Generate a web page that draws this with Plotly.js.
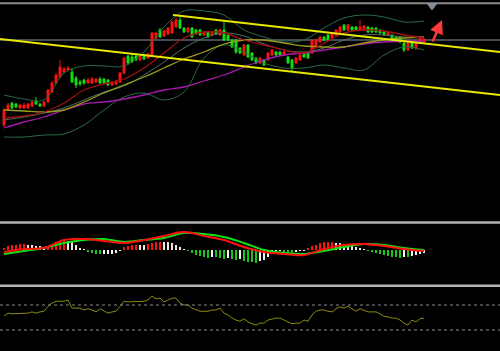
<!DOCTYPE html>
<html><head><meta charset="utf-8">
<script src="https://cdn.plot.ly/plotly-3.0.1.min.js"></script>
<style>html,body{margin:0;padding:0;background:#000;}#chart{width:500px;height:351px;}</style>
</head><body><div id="chart"></div>
<script>
// ---- candles (price units) ----
const open = [175,190,197,196,192,192,192,194,199,196,
194,198,208,217,223,228,230,228,222,218,
220,217,217,218,221,221,220,215,216,218,
227,244,243,244,240,245,242,245,262,270,
264,266,267,273,280,272,268,272,270,270,
265,268,265,270,265,270,265,260,260,252,
245,255,247,242,237,240,240,245,248,248,
245,243,240,237,240,247,247,247,253,258,
263,265,262,265,268,275,270,273,273,270,
270,273,272,272,270,268,265,265,263,263,
257,250,258,252,257,258];
const close = [190,195,192,193,195,195,196,198,196,194,
198,210,217,225,233,231,232,218,215,216,
217,220,221,221,217,217,215,218,219,227,
242,237,238,240,244,241,246,267,267,263,
269,272,278,280,272,268,272,263,266,265,
268,263,268,266,270,260,260,253,248,247,
255,243,240,237,242,235,247,250,245,245,
248,237,232,242,245,243,242,260,260,263,
260,260,267,270,273,270,275,270,270,273,
274,268,268,268,267,265,268,260,260,258,
250,258,252,257,262,261];
const high = [192,197,198,197,196,197,197,199,203,197,
199,211,219,227,240,233,234,232,224,220,
221,222,223,222,223,222,221,219,220,228,
243,245,246,245,245,246,247,268,268,272,
270,273,280,282,283,273,273,273,271,271,
269,269,269,271,271,278,266,261,261,253,
256,256,248,243,243,241,248,251,249,249,
249,244,241,243,246,248,248,261,261,264,
264,266,268,271,274,276,276,274,274,280,
275,274,273,273,271,269,269,266,264,264,
258,259,259,258,263,262];
const low = [173,189,191,192,191,191,191,193,195,193,
193,197,207,216,222,227,229,217,212,214,
215,216,216,217,216,216,214,214,215,217,
226,235,237,239,239,240,241,244,261,262,
263,265,266,272,271,267,267,262,265,264,
264,262,264,265,264,259,259,252,246,246,
244,242,239,236,236,234,239,244,244,244,
244,236,228,236,239,242,241,246,252,257,
259,259,261,264,267,269,269,269,269,269,
269,267,267,267,266,264,264,259,259,257,
248,249,251,250,256,257];
const barIdx = open.map((_, i) => i);

// ---- indicator lines sampled every 5 bars ----
const lineIdx = [0,5,10,15,20,25,30,35,40,45,50,55,60,65,70,75,80,85,90,95,100,105];
const maFast   = [182,184,188,197,210,216,221,232,247,262,268,267,260,255,250,247,257,267,270,269,265,262];
const maMid    = [190,189,188,190,198,207,215,223,232,241,248,256,260,260,257,254,253,253,257,260,262,263];
const maSlow   = [172,178,183,190,196,198,201,205,210,213,219,225,233,240,245,247,250,253,256,258,259,259];
const bbMiddle = [180,183,187,192,200,208,214,225,238,252,262,267,264,256,250,248,252,260,265,265,263,262];
const bbUpper  = [205,201,200,227,234,234,234,248,273,289,289,285,270,263,258,260,272,282,285,283,278,279];
const bbLower  = [163,163,165,166,175,190,203,207,200,208,242,255,248,237,232,232,235,232,230,245,253,250];

// trend channel (bar index, price)
const channelLowX = [-1,124], channelLowY = [261,205];
const channelUpX = [42.25,124], channelUpY = [285,248];
const lastPrice = 260;

// ---- MACD ----
const macdHist = [2,4,5,5.5,6,6.2,5.5,5,4.5,4,3,
4,6,8,9,10, 9.5,8,5,2,1, -2,-3,-3.5,-4.2, -4,-3.8,-3.5,-3,-1,
3,4,5,5.5, 5,4.8, 6,7,8,8.5, 8.2,8,7,5,3,1,
-1,-3,-5,-6,-7,-7.5, -6.5, -7,-8,-9, -7.5, -8.5,-10, -9,-10.5,-11.5,-12,-12.5,
-11,-10,-7,-4,-2,-1, -2,-2.5,-3, -2,-1,-0.5,
2,4,5,7,8,8.2,8.5, 7.5,7,6,5,4,3,2,1,
-1,-2,-3,-4,-5,-6,-6.5,-7,-7.5, -6.5,-7,-6,-5,-4,-3];
const macdMain   = [-2,1,2,10,11,9,7,10,14,18,14,10,3,-2,-4,-5,1,5,6,4,1,-1];
const macdSignal = [-4,-1,2,7,10,11,8,10,12,17,16,13,7,0,-3,-4,-1,3,6,5,2,0];

// ---- oscillator ----
const rsi = [52,57,56,56,56,56,57,59,57,59,
60,68,73,76,76,76,78,65,65,65,
62,64,62,59,64,60,57,59,60,68,
76,75,75,75,76,76,78,84,80,81,
75,78,81,81,73,70,70,65,62,60,
60,60,62,62,65,57,54,49,46,44,
48,43,40,38,41,41,46,48,49,49,
46,43,40,41,41,46,44,54,60,62,
62,60,59,64,67,65,68,64,60,64,
62,59,59,59,56,52,51,49,49,46,
41,38,46,43,48,49];
const rsiLevels = [70,30];

// histogram colours from direction of change
const histColors = macdHist.map((v, i) => {
  const prev = i > 0 ? macdHist[i-1] : 0;
  if (v >= 0) return v >= prev ? '#ff1010' : '#f4e4e4';
  return v <= prev ? '#18c818' : '#f4f4f4';
});

const lastIdx = barIdx.length - 1;
const traces = [
  {type:'scatter', x:lineIdx, y:bbUpper, mode:'lines', line:{color:'#2c6a44', width:1, shape:'spline'}, hoverinfo:'skip'},
  {type:'scatter', x:lineIdx, y:bbLower, mode:'lines', line:{color:'#2c6a44', width:1, shape:'spline'}, hoverinfo:'skip'},
  {type:'scatter', x:lineIdx, y:bbMiddle, mode:'lines', line:{color:'#4f6f60', width:1, shape:'spline'}, hoverinfo:'skip'},
  {type:'scatter', x:lineIdx, y:maSlow, mode:'lines', line:{color:'#a81ab0', width:1.3, shape:'spline'}, hoverinfo:'skip'},
  {type:'scatter', x:lineIdx, y:maMid, mode:'lines', line:{color:'#9c9c1c', width:1.3, shape:'spline'}, hoverinfo:'skip'},
  {type:'scatter', x:lineIdx, y:maFast, mode:'lines', line:{color:'#a01010', width:1.3, shape:'spline'}, hoverinfo:'skip'},
  {type:'scatter', x:channelLowX, y:channelLowY, mode:'lines', line:{color:'#e8e800', width:2}, hoverinfo:'skip'},
  {type:'scatter', x:channelUpX, y:channelUpY, mode:'lines', line:{color:'#e8e800', width:2}, hoverinfo:'skip'},
  {type:'candlestick', x:barIdx, open:open, high:high, low:low, close:close,
   increasing:{line:{color:'#ff1010', width:1}, fillcolor:'#ff1010'},
   decreasing:{line:{color:'#10e010', width:1}, fillcolor:'#10e010'},
   whiskerwidth:0, hoverinfo:'skip'},
  {type:'bar', x:barIdx, y:macdHist, yaxis:'y2', marker:{color:histColors, line:{width:0}}, width:0.5, hoverinfo:'skip'},
  {type:'scatter', x:lineIdx, y:macdSignal, yaxis:'y2', mode:'lines', line:{color:'#10e010', width:2, shape:'spline'}, hoverinfo:'skip'},
  {type:'scatter', x:lineIdx, y:macdMain, yaxis:'y2', mode:'lines', line:{color:'#ff1010', width:2, shape:'spline'}, hoverinfo:'skip'},
  {type:'scatter', x:barIdx, y:rsi, yaxis:'y3', mode:'lines', line:{color:'#8a8a10', width:1}, hoverinfo:'skip'},
  {type:'scatter', x:[lastIdx+2], y:[294], mode:'markers', marker:{symbol:'triangle-down', size:9, color:'#7d8c9c'}, cliponaxis:false, hoverinfo:'skip'}
];

const ax = {showgrid:false, zeroline:false, showticklabels:false, ticks:'', showline:false};
const layout = {
  width:500, height:351, margin:{l:0,r:0,t:0,b:0},
  paper_bgcolor:'#000', plot_bgcolor:'#000', showlegend:false, bargap:0,
  xaxis:Object.assign({range:[-1,124], rangeslider:{visible:false}, anchor:'y3'}, ax),
  yaxis:Object.assign({domain:[0.3675,1], range:[78,300]}, ax),
  yaxis2:Object.assign({domain:[0.188,0.3618], range:[-35,26]}, ax),
  yaxis3:Object.assign({domain:[0,0.1823], range:[-3.6,98.8]}, ax),
  shapes:[
    {type:'line', xref:'paper', yref:'paper', x0:0, x1:1, y0:0.9905, y1:0.9905, line:{color:'#8c8c8c', width:2}},
    {type:'line', xref:'paper', yref:'paper', x0:0, x1:1, y0:0.3660, y1:0.3660, line:{color:'#b4b4b4', width:2.5}},
    {type:'line', xref:'paper', yref:'paper', x0:0, x1:1, y0:0.1860, y1:0.1860, line:{color:'#b4b4b4', width:2.5}},
    {type:'line', xref:'paper', yref:'y', x0:0, x1:1, y0:lastPrice, y1:lastPrice, line:{color:'#5a6472', width:1.5}, layer:'below'},
    ...rsiLevels.map(v => ({type:'line', xref:'paper', yref:'y3', x0:0, x1:1, y0:v, y1:v, line:{color:'#8a8a8a', width:1, dash:'dot'}}))
  ],
  annotations:[
    {x:lastIdx+4.5, y:280, ax:lastIdx+2, ay:257, xref:'x', yref:'y', axref:'x', ayref:'y',
     text:'', showarrow:true, arrowhead:2, arrowsize:1.1, arrowwidth:2.5, arrowcolor:'#ff3838'}
  ]
};
Plotly.newPlot('chart', traces, layout, {staticPlot:true, displayModeBar:false});
</script>
</body></html>
